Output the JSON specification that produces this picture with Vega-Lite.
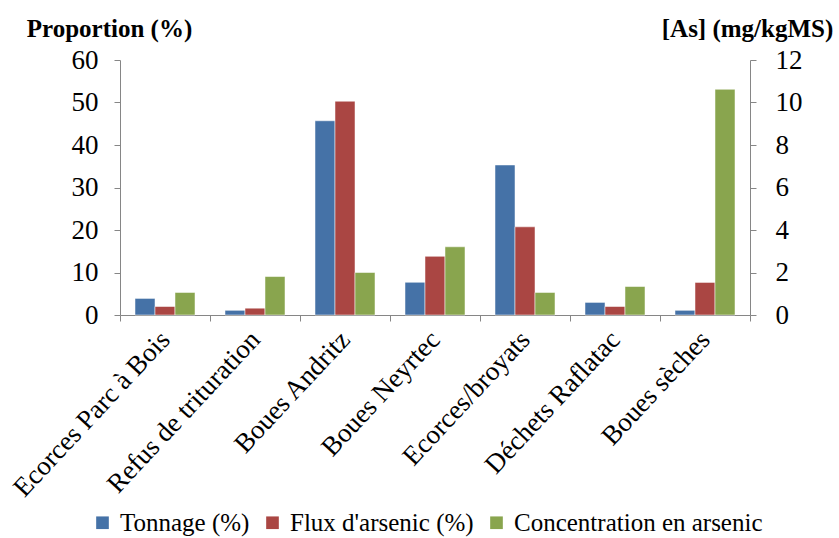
{
  "$schema": "https://vega.github.io/schema/vega-lite/v6.json",
  "width": 630,
  "height": 255,
  "autosize": {"type": "none"},
  "padding": {"left": 120, "top": 60, "right": 89, "bottom": 223},
  "background": "white",
  "config": {
    "view": {"stroke": null},
    "font": "Liberation Serif",
    "legend": {"labelFont": "Liberation Serif", "titleFont": "Liberation Serif"},
    "axis": {"domainColor": "#868686", "tickColor": "#868686", "labelColor": "black", "labelFont": "Liberation Serif", "titleFont": "Liberation Serif", "grid": false}
  },
  "data": {
    "values": [
      {"cat": "Ecorces Parc à Bois", "series": "Tonnage (%)", "value": 3.9},
      {"cat": "Ecorces Parc à Bois", "series": "Flux d'arsenic (%)", "value": 2.0},
      {"cat": "Ecorces Parc à Bois", "series": "Concentration en arsenic", "value": 1.06},
      {"cat": "Refus de trituration", "series": "Tonnage (%)", "value": 1.1},
      {"cat": "Refus de trituration", "series": "Flux d'arsenic (%)", "value": 1.6},
      {"cat": "Refus de trituration", "series": "Concentration en arsenic", "value": 1.81},
      {"cat": "Boues Andritz", "series": "Tonnage (%)", "value": 45.7},
      {"cat": "Boues Andritz", "series": "Flux d'arsenic (%)", "value": 50.3},
      {"cat": "Boues Andritz", "series": "Concentration en arsenic", "value": 2.0},
      {"cat": "Boues Neyrtec", "series": "Tonnage (%)", "value": 7.7},
      {"cat": "Boues Neyrtec", "series": "Flux d'arsenic (%)", "value": 13.8},
      {"cat": "Boues Neyrtec", "series": "Concentration en arsenic", "value": 3.21},
      {"cat": "Ecorces/broyats", "series": "Tonnage (%)", "value": 35.3},
      {"cat": "Ecorces/broyats", "series": "Flux d'arsenic (%)", "value": 20.75},
      {"cat": "Ecorces/broyats", "series": "Concentration en arsenic", "value": 1.06},
      {"cat": "Déchets Raflatac", "series": "Tonnage (%)", "value": 2.96},
      {"cat": "Déchets Raflatac", "series": "Flux d'arsenic (%)", "value": 2.0},
      {"cat": "Déchets Raflatac", "series": "Concentration en arsenic", "value": 1.34},
      {"cat": "Boues sèches", "series": "Tonnage (%)", "value": 1.1},
      {"cat": "Boues sèches", "series": "Flux d'arsenic (%)", "value": 7.66},
      {"cat": "Boues sèches", "series": "Concentration en arsenic", "value": 10.62}
    ]
  },
  "encoding": {
    "x": {
      "field": "cat", "type": "nominal",
      "scale": {"domain": ["Ecorces Parc à Bois", "Refus de trituration", "Boues Andritz", "Boues Neyrtec", "Ecorces/broyats", "Déchets Raflatac", "Boues sèches"], "paddingInner": 0, "paddingOuter": 0},
      "axis": {"title": null, "labelAngle": -47, "labelAlign": "right", "labelBaseline": "middle", "labelFontSize": 27, "labelPadding": 14, "tickBand": "extent", "tickSize": 6, "labelLimit": 400}
    },
    "xOffset": {
      "field": "series", "type": "nominal",
      "scale": {"domain": ["Tonnage (%)", "Flux d'arsenic (%)", "Concentration en arsenic"], "paddingInner": 0, "paddingOuter": 0.75}
    },
    "color": {
      "field": "series", "type": "nominal",
      "scale": {"domain": ["Tonnage (%)", "Flux d'arsenic (%)", "Concentration en arsenic"], "range": ["#4572A7", "#AA4643", "#89A54E"]},
      "legend": {"title": null, "orient": "none", "legendX": -30, "legendY": 450, "direction": "horizontal", "symbolType": "square", "symbolSize": 160, "symbolStrokeWidth": 0, "labelFontSize": 25, "labelFont": "Liberation Serif", "labelLimit": 500, "columnPadding": 10, "labelOffset": 5}
    }
  },
  "layer": [
    {
      "transform": [{"filter": "datum.series !== 'Concentration en arsenic'"}],
      "mark": {"type": "bar", "stroke": "white", "strokeWidth": 0.5},
      "encoding": {
        "y": {
          "field": "value", "type": "quantitative",
          "scale": {"domain": [0, 60]},
          "axis": {"values": [0, 10, 20, 30, 40, 50, 60], "labelFontSize": 27, "labelPadding": 16, "tickSize": 6, "title": "Proportion (%)", "titleAngle": 0, "titleX": -11, "titleY": -32, "titleAlign": "center", "titleBaseline": "middle", "titleFontSize": 25, "titleFontWeight": "bold"}
        }
      }
    },
    {
      "transform": [{"filter": "datum.series === 'Concentration en arsenic'"}],
      "mark": {"type": "bar", "stroke": "white", "strokeWidth": 0.5},
      "encoding": {
        "y": {
          "field": "value", "type": "quantitative",
          "scale": {"domain": [0, 12]},
          "axis": {"orient": "right", "values": [0, 2, 4, 6, 8, 10, 12], "labelFontSize": 27, "labelPadding": 19, "tickSize": 6, "title": "[As]  (mg/kgMS)", "titleAngle": 0, "titleX": -3, "titleY": -32, "titleAlign": "center", "titleBaseline": "middle", "titleFontSize": 25, "titleFontWeight": "bold"}
        }
      }
    }
  ],
  "resolve": {"scale": {"y": "independent"}}
}
